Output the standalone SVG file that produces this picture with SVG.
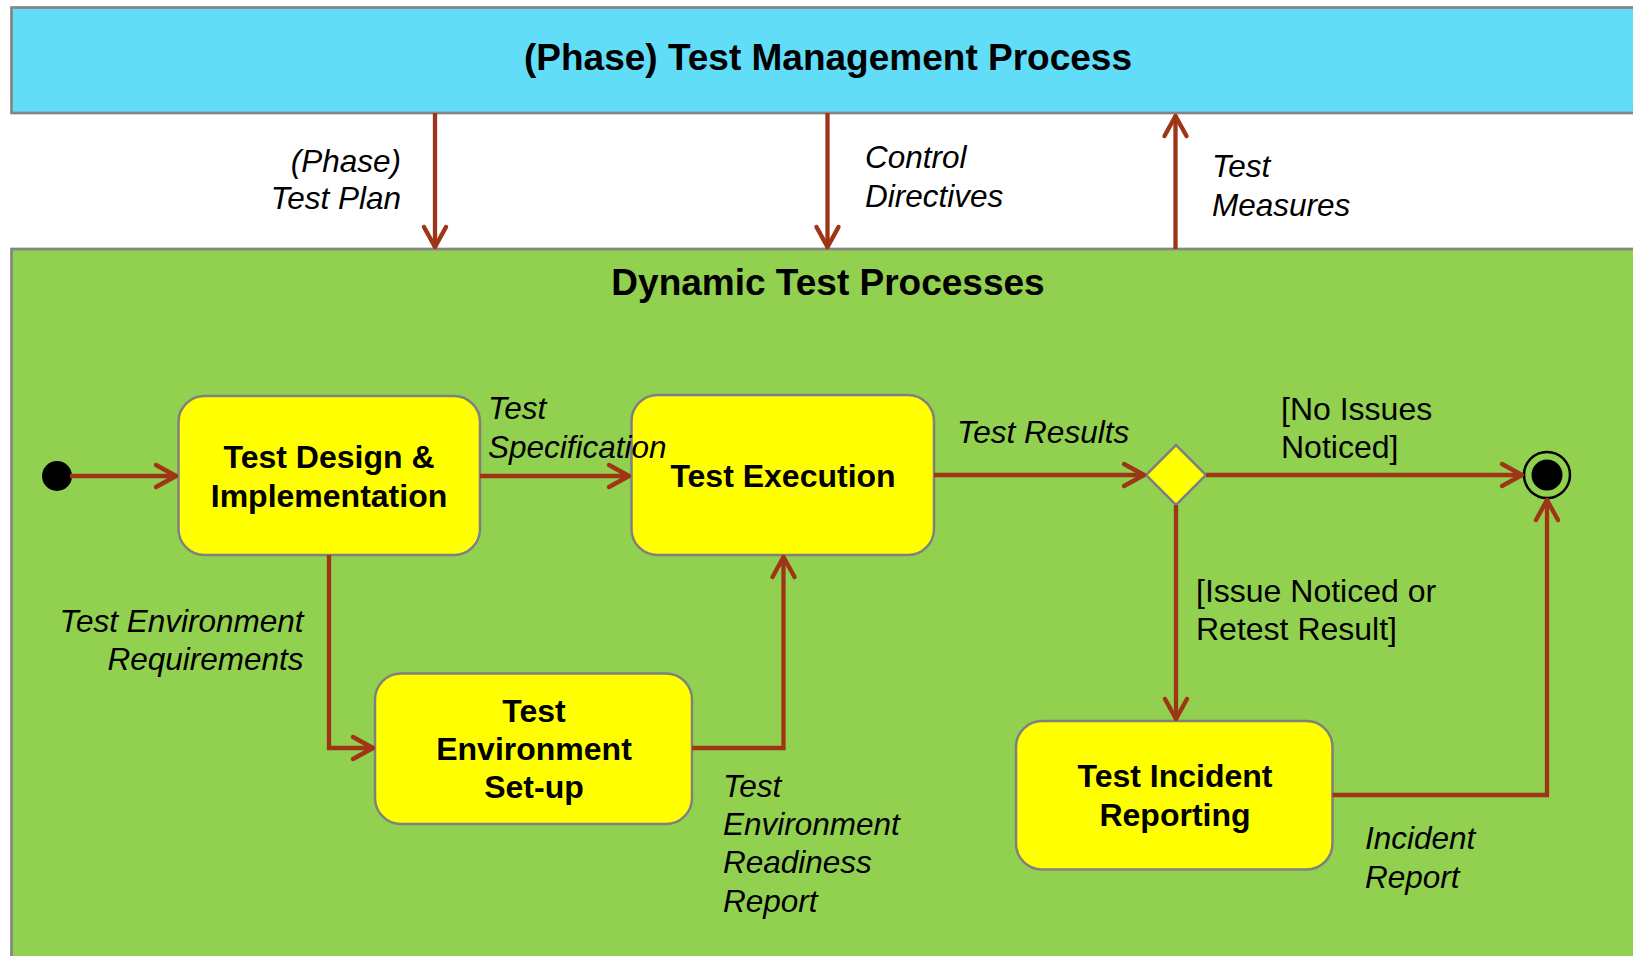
<svg xmlns="http://www.w3.org/2000/svg" width="1633" height="956" viewBox="0 0 1633 956">
<style>
text{font-family:"Liberation Sans",Arial,Helvetica,sans-serif;fill:#000}
.title{font-size:37px;font-weight:bold;text-anchor:middle}
.node{font-size:32px;font-weight:bold;text-anchor:middle}
.lab{font-size:31.5px;font-style:italic}
.guard{font-size:32px}
.r{text-anchor:end}
.box{fill:#FFFF00;stroke:#808080;stroke-width:2.5}
.bar{stroke:#858585;stroke-width:2.7}
.con{fill:none;stroke:#9E3517;stroke-width:4.3;stroke-linejoin:miter}
</style>
<defs>
<marker id="arr" markerUnits="userSpaceOnUse" viewBox="-26 -15 30 30" refX="0" refY="0" markerWidth="30" markerHeight="30" orient="auto">
<path d="M-21,-11 L-1,0 L-21,11" fill="none" stroke="#9E3517" stroke-width="4.4" stroke-linecap="round" stroke-linejoin="round"/>
</marker>
</defs>
<g id="mgmt">
<rect class="bar" x="11.5" y="7.5" width="1640" height="105.5" fill="#61DDF8"/>
<text class="title" x="828" y="70">(Phase) Test Management Process</text>
</g>
<g id="dynamic">
<rect class="bar" x="11.5" y="249" width="1640" height="720" fill="#92D050"/>
<text class="title" x="828" y="295">Dynamic Test Processes</text>
</g>
<g id="start"><circle cx="57" cy="476" r="15" fill="#000"/></g>
<g id="design">
<rect class="box" x="178.5" y="396" width="301.5" height="159" rx="26"/>
<text class="node" x="329" y="468">Test Design &amp;</text>
<text class="node" x="329" y="506.5">Implementation</text>
</g>
<g id="execution">
<rect class="box" x="631.5" y="395" width="302.5" height="160" rx="26"/>
<text class="node" x="783" y="487">Test Execution</text>
</g>
<g id="envsetup">
<rect class="box" x="375" y="673.5" width="317" height="150.5" rx="26"/>
<text class="node" x="534" y="722">Test</text>
<text class="node" x="534" y="760">Environment</text>
<text class="node" x="534" y="798">Set-up</text>
</g>
<g id="incident">
<rect class="box" x="1016" y="721" width="316.5" height="148.5" rx="26"/>
<text class="node" x="1175" y="787">Test Incident</text>
<text class="node" x="1175" y="826">Reporting</text>
</g>
<g id="decision"><polygon class="box" points="1146,475 1176,445 1206,475 1176,505"/></g>
<g id="end">
<circle cx="1547" cy="475" r="23" fill="none" stroke="#000" stroke-width="2.5"/>
<circle cx="1547" cy="475" r="15.5" fill="#000"/>
</g>
<g id="connectors">
<path class="con" d="M435,113 V248" marker-end="url(#arr)"/>
<path class="con" d="M827.5,113 V248" marker-end="url(#arr)"/>
<path class="con" d="M1175.5,249 V115" marker-end="url(#arr)"/>
<path class="con" d="M70,476 H177" marker-end="url(#arr)"/>
<path class="con" d="M480,476 H630" marker-end="url(#arr)"/>
<path class="con" d="M934,475 H1145" marker-end="url(#arr)"/>
<path class="con" d="M1206,475 H1523" marker-end="url(#arr)"/>
<path class="con" d="M1176,505 V720" marker-end="url(#arr)"/>
<path class="con" d="M1332.5,795 H1547 V499" marker-end="url(#arr)"/>
<path class="con" d="M329,555 V748 H374" marker-end="url(#arr)"/>
<path class="con" d="M692,748 H783.5 V556" marker-end="url(#arr)"/>
</g>
<g id="labels">
<text class="lab r" x="401" y="172">(Phase)</text>
<text class="lab r" x="401" y="209">Test Plan</text>
<text class="lab" x="865" y="168">Control</text>
<text class="lab" x="865" y="207">Directives</text>
<text class="lab" x="1212" y="177">Test</text>
<text class="lab" x="1212" y="216">Measures</text>
<text class="lab" x="488" y="419">Test</text>
<text class="lab" x="488" y="458">Specification</text>
<text class="lab" x="957" y="443">Test Results</text>
<text class="guard" x="1281" y="420">[No Issues</text>
<text class="guard" x="1281" y="458">Noticed]</text>
<text class="guard" x="1196" y="602">[Issue Noticed or</text>
<text class="guard" x="1196" y="640">Retest Result]</text>
<text class="lab r" x="303.5" y="632">Test Environment</text>
<text class="lab r" x="303.5" y="670">Requirements</text>
<text class="lab" x="723" y="797">Test</text>
<text class="lab" x="723" y="835">Environment</text>
<text class="lab" x="723" y="873">Readiness</text>
<text class="lab" x="723" y="912">Report</text>
<text class="lab" x="1365" y="849">Incident</text>
<text class="lab" x="1365" y="888">Report</text>
</g>
</svg>
